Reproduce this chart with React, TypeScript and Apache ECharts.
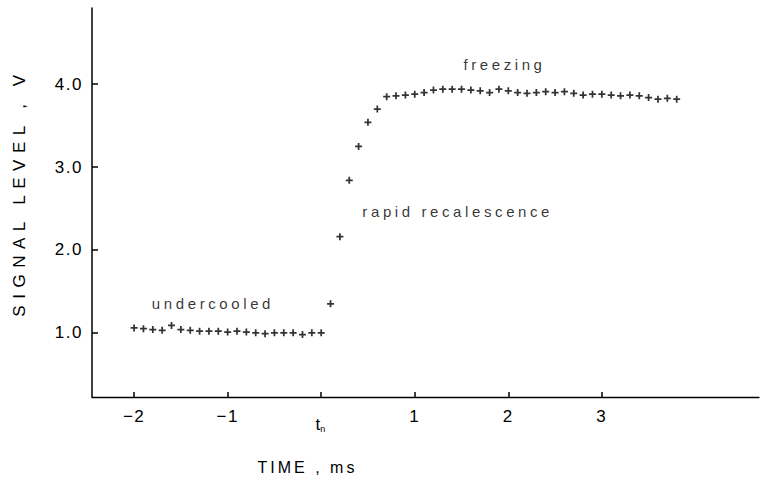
import React, { useEffect, useRef } from "react";
import * as echarts from "echarts";

const undercooledTime = [-2.0, -1.9, -1.8, -1.7, -1.6, -1.5, -1.4, -1.3, -1.2, -1.1, -1.0, -0.9, -0.8, -0.7, -0.6, -0.5, -0.4, -0.3, -0.2, -0.1, 0.0];
const undercooledSignal = [1.06, 1.05, 1.04, 1.03, 1.09, 1.04, 1.03, 1.02, 1.02, 1.02, 1.01, 1.02, 1.01, 1.0, 0.99, 1.0, 1.0, 1.0, 0.98, 1.0, 1.0];
const riseTime = [0.1, 0.2, 0.3, 0.4, 0.5, 0.6];
const riseSignal = [1.35, 2.16, 2.84, 3.25, 3.54, 3.7];
const freezeTime = [0.7, 0.8, 0.9, 1.0, 1.1, 1.2, 1.3, 1.4, 1.5, 1.6, 1.7, 1.8, 1.9, 2.0, 2.1, 2.2, 2.3, 2.4, 2.5, 2.6, 2.7, 2.8, 2.9, 3.0, 3.1, 3.2, 3.3, 3.4, 3.5, 3.6, 3.7, 3.8];
const freezeSignal = [3.85, 3.86, 3.87, 3.88, 3.9, 3.93, 3.94, 3.94, 3.94, 3.93, 3.92, 3.9, 3.94, 3.92, 3.9, 3.89, 3.9, 3.91, 3.9, 3.91, 3.89, 3.87, 3.88, 3.88, 3.87, 3.86, 3.87, 3.86, 3.84, 3.82, 3.83, 3.82];

const xTicks = [-2, -1, 0, 1, 2, 3];
const yTicks = [1, 2, 3, 4];

const noteTexts = ["undercooled", "rapid recalescence", "freezing"];
const noteTime = [-1.81, 0.44, 1.52];
const noteSignal = [1.36, 2.46, 4.24];

const xName = "TIME , ms";
const yName = "SIGNAL LEVEL , V";

const PLUS = "path://M3,0H5V3H8V5H5V8H3V5H0V3H3Z";

export default function App() {
  const ref = useRef<HTMLDivElement>(null);
  useEffect(() => {
    if (!ref.current) return;
    const el = ref.current;
    const chart = echarts.init(el, null, { renderer: "svg" });
    const pts: number[][] = [];
    undercooledTime.forEach((t, i) => pts.push([t, undercooledSignal[i]]));
    riseTime.forEach((t, i) => pts.push([t, riseSignal[i]]));
    freezeTime.forEach((t, i) => pts.push([t, freezeSignal[i]]));
    const notes = noteTexts.map((s, i) => ({ value: [noteTime[i], noteSignal[i]], name: s }));
    const font = "'Liberation Sans', Arial, sans-serif";
    const spacing = () => {
      el.querySelectorAll("text").forEach((t) => {
        const s = t.textContent || "";
        let ls = 1.5;
        if (s === yName) ls = 6.5;
        else if (s === xName) ls = 3;
        else if (noteTexts.indexOf(s) >= 0) ls = 3.6;
        (t as SVGTextElement).style.letterSpacing = ls + "px";
      });
    };
    chart.on("finished", spacing);
    chart.setOption({
      animation: false,
      backgroundColor: "#ffffff",
      grid: { left: 92, right: 2, top: 8, bottom: 92, containLabel: false },
      xAxis: {
        type: "value",
        min: -2.45,
        max: 4.68,
        name: xName,
        nameLocation: "middle",
        nameGap: 62,
        nameTextStyle: { color: "#000", fontSize: 16, fontFamily: font, padding: [0, 236, 0, 0] },
        axisLine: { show: true, onZero: false, lineStyle: { color: "#000", width: 1.3 } },
        axisTick: { show: true, inside: true, length: 5, customValues: xTicks, lineStyle: { color: "#000", width: 1.5 } },
        axisLabel: {
          customValues: xTicks,
          margin: 11,
          color: "#000",
          fontSize: 17,
          fontFamily: font,
          formatter: (v: number) => (v === 0 ? "{t|t}{s|n}" : v < 0 ? "\u2212" + Math.abs(v) : String(v)),
          rich: {
            t: { fontSize: 17, fontFamily: font, color: "#000", padding: [8, 0, 0, 0] },
            s: { fontSize: 9, fontFamily: font, color: "#000", padding: [16, 0, 0, 0] },
          },
        },
        splitLine: { show: false },
      },
      yAxis: {
        type: "value",
        min: 0.226,
        max: 4.92,
        name: yName,
        nameLocation: "middle",
        nameGap: 64,
        nameTextStyle: { color: "#000", fontSize: 17, fontFamily: font, padding: [0, 0, 0, 20] },
        axisLine: { show: true, onZero: false, lineStyle: { color: "#000", width: 1.5 } },
        axisTick: { show: true, inside: true, length: 6, customValues: yTicks, lineStyle: { color: "#000", width: 1.5 } },
        axisLabel: {
          customValues: yTicks,
          margin: 9,
          color: "#000",
          fontSize: 17,
          fontFamily: font,
          formatter: (v: number) => v.toFixed(1),
        },
        splitLine: { show: false },
      },
      series: [
        {
          type: "scatter",
          data: pts,
          symbol: PLUS,
          symbolSize: 7,
          itemStyle: { color: "#000" },
        },
        {
          type: "scatter",
          data: notes,
          symbolSize: 0,
          itemStyle: { color: "transparent" },
          label: {
            show: true,
            position: "right",
            distance: 0,
            formatter: (p: any) => p.name,
            color: "#000",
            fontSize: 15,
            fontFamily: font,
          },
        },
      ],
    });
    spacing();
    return () => chart.dispose();
  }, []);
  return (
    <div id="chart" ref={ref} style={{ width: 761, height: 489, position: "absolute", left: 0, top: 0 }} />
  );
}
